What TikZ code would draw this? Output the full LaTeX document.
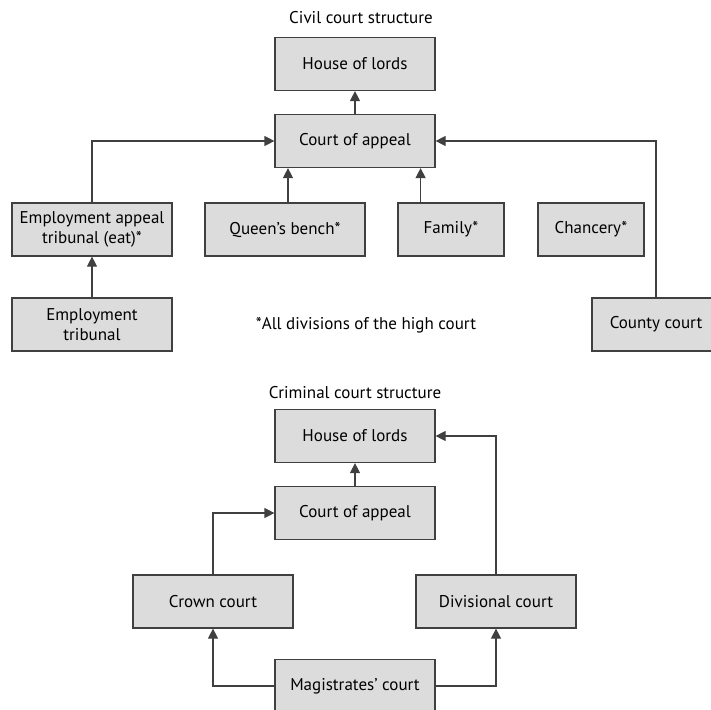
\documentclass[tikz,border=0pt]{standalone}
\usepackage{fontspec}
\setmainfont{PT Sans}
\usepackage{tikz}
\usetikzlibrary{arrows.meta,positioning}
\definecolor{boxfill}{HTML}{DCDCDC}
\definecolor{boxline}{HTML}{404040}
\tikzset{
  >={Triangle[length=10pt,width=10pt]},
  court/.style={rectangle, draw=boxline, fill=boxfill, line width=1.2pt,
                minimum width=160pt, minimum height=53pt, align=center,
                font=\fontsize{17}{20}\selectfont, inner sep=2pt},
  small/.style={court, minimum width=106pt},
  heading/.style={font=\fontsize{17}{20}\selectfont, inner sep=0pt},
  line/.style={draw=boxline, line width=1.2pt, ->}
}

\begin{document}
\begin{tikzpicture}[x=1pt,y=-1pt]
\useasboundingbox (0,0) rectangle (711,709);
% civil court structure
\node[heading] (civtitle) at (361,18) {Civil court structure};
\node[court] (hol) at (355,64) {House of lords};
\node[court] (coa) at (355,141) {Court of appeal};
\node[court] (eat) at (92,229.5) {Employment appeal\\tribunal (eat)*};
\node[court] (qb) at (285,229.5) {Queen’s bench*};
\node[small] (fam) at (451,229.5) {Family*};
\node[small] (chan) at (591,229.5) {Chancery*};
\node[court] (et) at (92,324.5) {Employment\\tribunal};
\node[heading] (note) at (366,325) {*All divisions of the high court};
\node[court, minimum width=128pt] (county) at (656,324.5) {County court};
\draw[line] (coa) -- (hol);
\draw[line] (et) -- (eat);
\draw[line] (eat.north) |- (coa.west);
\draw[line] ([xshift=3pt]qb.north) -- ([xshift=3pt]qb.north |- coa.south);
\draw[line] ([xshift=-15pt]coa.south east |- fam.north) -- ([xshift=-15pt]coa.south east);
\draw[line] (county.north) |- (coa.east);
% criminal court structure
\node[heading] (crimtitle) at (355,393) {Criminal court structure};
\node[court] (hol2) at (355,436) {House of lords};
\node[court] (coa2) at (355,513) {Court of appeal};
\node[court] (crown) at (213,601.5) {Crown court};
\node[court] (div) at (496,601.5) {Divisional court};
\node[court] (mag) at (355,686) {Magistrates’ court};
\draw[line] (coa2) -- (hol2);
\draw[line] (crown.north) |- (coa2.west);
\draw[line] (div.north) |- (hol2.east);
\draw[line] (mag.west) -| (crown.south);
\draw[line] (mag.east) -| (div.south);
\end{tikzpicture}
\end{document}
